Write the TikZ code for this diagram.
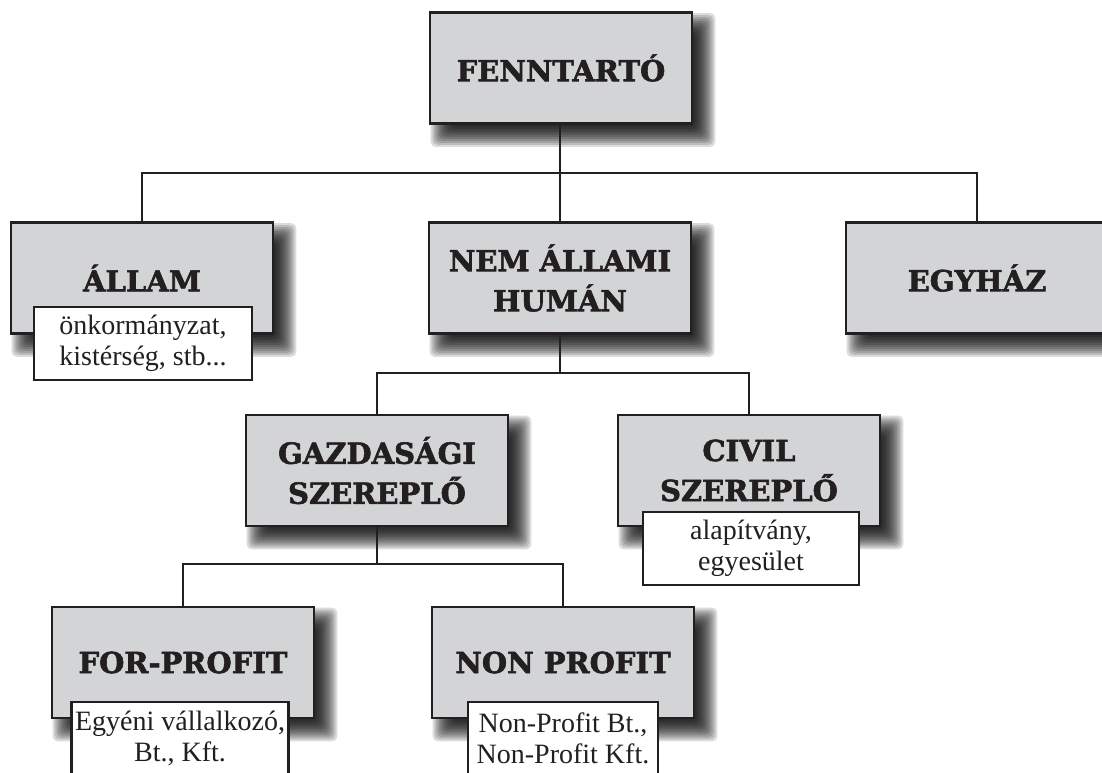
\documentclass[tikz,border=0pt]{standalone}
\usepackage{fontspec}
\setmainfont{DejaVu Serif}
\newfontfamily\headfont{DejaVu Serif}[FakeStretch=1.0, BoldFeatures={FakeBold=2}]
\newfontfamily\subfont{Liberation Serif}
\definecolor{ink}{RGB}{35,31,32}
\definecolor{boxgray}{RGB}{211,212,214}
\pgfdeclarelayer{bglayer}
\pgfdeclarelayer{shadowlayer}
\pgfsetlayers{bglayer,shadowlayer,main}
\tikzset{
  mainbox/.style={draw=ink, fill=boxgray, line width=2.7pt, minimum width=262pt,
    minimum height=111pt, inner sep=0pt, align=center, text=ink,
    font=\headfont\fontsize{29}{40}\selectfont\bfseries},
  subbox/.style={draw=ink, fill=white, line width=2.6pt, minimum height=73pt,
    inner sep=0pt, align=center, text=ink,
    font=\subfont\fontsize{28}{31}\selectfont},
  conn/.style={draw=ink, line width=2.5pt},
}
\newcommand\boxshadow[1]{%
  \begin{pgfonlayer}{shadowlayer}
    \foreach \rr in {-10,-8,...,10}{
      \fill[black, fill opacity=0.14, rounded corners=5pt]
        ([shift={(12-\rr,12-\rr)}]#1.north west) rectangle
        ([shift={(12+\rr,12+\rr)}]#1.south east);
    }
  \end{pgfonlayer}}
\begin{document}
\begin{tikzpicture}[x=1pt,y=-1pt]
\useasboundingbox (0,0) rectangle (1102,772);
\begin{pgfonlayer}{bglayer}
  \fill[white] (0,0) rectangle (1102,772);
\end{pgfonlayer}

% main boxes
\node[mainbox] (F)  at (561,68)    {FENNTARTÓ};
\node[mainbox] (A)  at (142,278)   {ÁLLAM};
\node[mainbox] (N)  at (560,278)   {NEM ÁLLAMI\\HUMÁN};
\node[mainbox] (E)  at (977,278)   {EGYHÁZ};
\node[mainbox] (G)  at (377,470.5) {GAZDASÁGI\\SZEREPLŐ};
\node[mainbox] (C)  at (749,470.5) {CIVIL\\SZEREPLŐ};
\node[mainbox] (FP) at (183,662.5) {FOR-PROFIT};
\node[mainbox] (NP) at (563,662.5) {NON PROFIT};

% sub boxes
\node[subbox, minimum width=218pt] (As)  at (143,343.5) {önkormányzat,\\kistérség, stb...};
\node[subbox, minimum width=216pt] (Cs)  at (751,548.5) {alapítvány,\\egyesület};
\node[subbox, minimum width=217pt] (FPs) at (180,738.5) {Egyéni vállalkozó,\\Bt., Kft.};
\node[subbox, minimum width=190pt] (NPs) at (563,738.5) {Non-Profit Bt.,\\Non-Profit Kft.};

% shadows
\boxshadow{F}\boxshadow{A}\boxshadow{N}\boxshadow{E}
\boxshadow{G}\boxshadow{C}\boxshadow{FP}\boxshadow{NP}

% connectors
\coordinate (b1) at (560,173);
\coordinate (b2) at (560,373);
\coordinate (b3) at (377,564);
\draw[conn] (F.south -| N.north) -- (N.north);
\draw[conn] (A.north) |- (b1) -| (E.north);
\draw[conn] (N.south) -- (b2);
\draw[conn] (G.north) |- (b2) -| (C.north);
\draw[conn] (G.south) -- (b3);
\draw[conn] (FP.north) |- (b3) -| (NP.north);
\end{tikzpicture}
\end{document}
